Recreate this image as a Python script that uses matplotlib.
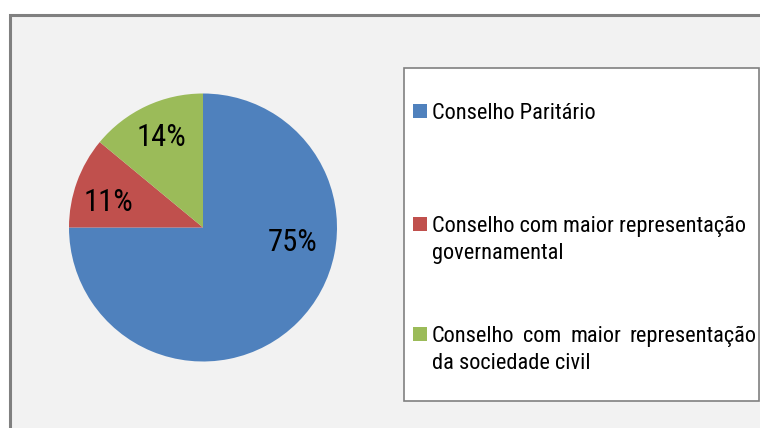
import os
import matplotlib
matplotlib.use("Agg")
import matplotlib.pyplot as plt
from matplotlib import font_manager, transforms
from matplotlib.font_manager import FontProperties
from matplotlib.textpath import TextPath
from matplotlib.patches import Rectangle

categorias = ["Conselho Paritário",
              "Conselho com maior representação governamental",
              "Conselho com maior representação da sociedade civil"]
valores = [75, 11, 14]
cores = ["#4F81BD", "#C0504D", "#9BBB59"]

# linhas da legenda (quebradas como no quadro)
linhas_legenda = [["Conselho Paritário"],
                  ["Conselho com maior representação", "governamental"],
                  ["Conselho com maior representação", "da sociedade civil"]]
justificar = [False, False, True]


def medida(fp, s):
    ext = TextPath((0, 0), s, size=100, prop=fp).get_extents()
    return ext.width, ext.height


# procura uma fonte sem serifa estreita (tipo Arial Narrow) entre as familias conhecidas
familias = ("Liberation Sans", "Arial", "Roboto", "Noto Sans", "Open Sans", "DejaVu Sans")
proibido = ("bold", "black", "medium", "semi", "light", "thin", "italic", "oblique",
            "heavy", "extra", "mono", "cjk", "display", "ui")
melhor, melhor_dif = None, None
for f in font_manager.fontManager.ttflist:
    arq = os.path.basename(f.fname).lower()
    if not f.name.startswith(familias) or f.name.startswith(("Noto Sans Mono", "Noto Sans CJK")):
        continue
    if f.name != "Noto Sans" and f.name.startswith("Noto Sans") and "Condensed" not in f.name:
        continue
    if any(k in arq for k in proibido) or f.style != "normal":
        continue
    fp = FontProperties(fname=f.fname)
    try:
        w, _ = medida(fp, "Conselho Paritário")
        _, h = medida(fp, "H")
    except Exception:
        continue
    dif = abs(w / h - 161 / 17)
    if melhor_dif is None or dif < melhor_dif:
        melhor, melhor_dif = fp, dif

fonte = melhor if melhor is not None else FontProperties(family="Liberation Sans")

W, H = 760, 428
DPI = 100


def tamanho(s, largura_px):
    w, _ = medida(fonte, s)
    return largura_px * 72 / w


tam_leg = tamanho("Conselho Paritário", 161)
tam_pct = tamanho("75%", 47)

fig = plt.figure(figsize=(W / DPI, H / DPI), dpi=DPI, facecolor="white")
# coordenadas em pixels com origem no canto superior esquerdo
px = transforms.Affine2D().scale(1 / W, -1 / H).translate(0, 1) + fig.transFigure

# area do grafico
fig.patches.append(Rectangle((9.5, 14.5), 780, 440, transform=px, facecolor="#F2F2F2",
                             edgecolor="#808080", linewidth=2.2, zorder=-1))

# pizza
cx, cy, r = 203, 227.5, 134
ax = fig.add_axes([(cx - r) / W, (H - cy - r) / H, 2 * r / W, 2 * r / H])
ax.pie(valores, colors=cores, startangle=90, counterclock=False, radius=1,
       wedgeprops=dict(linewidth=0))
ax.set_xlim(-1, 1)
ax.set_ylim(-1, 1)
ax.set_aspect("equal")
ax.axis("off")

pos_rotulos = [(0.67, -0.11), (-0.705, 0.19), (-0.31, 0.668)]
for v, (x, y) in zip(valores, pos_rotulos):
    ax.text(x, y, f"{v}%", ha="center", va="center", fontproperties=fonte,
            fontsize=tam_pct, color="black")

# legenda
fig.patches.append(Rectangle((404, 68), 355, 333, transform=px, facecolor="white",
                             edgecolor="#808080", linewidth=1.2, zorder=1))

bases = [119, 232, 342]
quadrados = [104, 217, 327]
x_texto, x_dir, entrelinha = 432, 757, 27
renderer = fig.canvas.get_renderer()

for linhas, cor, base, qy, just in zip(linhas_legenda, cores, bases, quadrados, justificar):
    fig.patches.append(Rectangle((413, qy), 14, 14, transform=px, facecolor=cor,
                                 edgecolor="none", zorder=2))
    for i, linha in enumerate(linhas):
        y = base + i * entrelinha
        if just and i == 0:
            palavras = linha.split()
            textos = [fig.text(0, y, p, transform=px, fontproperties=fonte,
                               fontsize=tam_leg, va="baseline", zorder=3)
                      for p in palavras]
            larg = [t.get_window_extent(renderer).width for t in textos]
            vao = (x_dir - x_texto - sum(larg)) / (len(palavras) - 1)
            x = x_texto
            for t, w in zip(textos, larg):
                t.set_x(x)
                x += w + vao
        else:
            fig.text(x_texto, y, linha, transform=px, fontproperties=fonte,
                     fontsize=tam_leg, va="baseline", zorder=3)

fig.savefig("out.png", dpi=DPI, facecolor="white")
